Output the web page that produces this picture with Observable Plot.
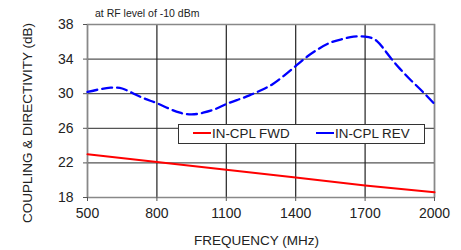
<!DOCTYPE html>
<html><head><meta charset="utf-8">
<script src="https://cdn.jsdelivr.net/npm/d3@7"></script>
<script src="https://cdn.jsdelivr.net/npm/@observablehq/plot@0.6"></script>
<style>
body{margin:0;background:#fff;font-family:"Liberation Sans",Arial,sans-serif;}
#wrap{position:relative;width:461px;height:250px;}
#title{position:absolute;left:95px;top:7px;font-size:10.5px;color:#222;white-space:nowrap;}
#legend{position:absolute;left:178px;top:124px;width:247px;height:20px;border:1px solid #333;background:#fff;box-sizing:border-box;font-size:13.4px;color:#222;}
.item{position:absolute;top:1px;white-space:nowrap;}
.sw{display:inline-block;width:18px;height:2px;vertical-align:middle;margin-right:1px;position:relative;top:-1px;}
</style></head>
<body><div id="wrap"><div id="chart"></div>
<div id="title">at RF level of -10 dBm</div>
<div id="legend"></div></div>
<script>
const freqs = [500,550,600,650,700,750,800,850,900,950,1000,1050,1100,1150,1200,1250,1300,1350,1400,1450,1500,1550,1600,1650,1700,1750,1800,1850,1900,1950,2000];
const revValues = [30.2,30.5,30.7,30.6,30.0,29.4,28.9,28.3,27.8,27.6,27.8,28.2,28.8,29.3,29.8,30.4,31.1,32.1,33.2,34.3,35.2,35.9,36.3,36.6,36.6,36.1,34.5,32.9,31.5,30.2,28.8];
const fwdFreqs = [500,800,1100,1400,1700,2000];
const fwdValues = [23.0,22.1,21.2,20.3,19.4,18.6];
const xTicks = [500,800,1100,1400,1700,2000];
const yTicks = [18,22,26,30,34,38];
const seriesNames = ["IN-CPL FWD","IN-CPL REV"];
const seriesColors = ["#ff0000","#0000ff"];

const rev = freqs.map((f,i)=>({f, v: revValues[i]}));
const fwd = fwdFreqs.map((f,i)=>({f, v: fwdValues[i]}));

const chart = Plot.plot({
  width: 461, height: 250,
  marginLeft: 87, marginRight: 27, marginTop: 24, marginBottom: 53,
  style: {fontFamily: '"Liberation Sans", Arial, sans-serif', fontSize: "14px", color: "#222", background: "#fff"},
  x: {domain: [500,2000]},
  y: {domain: [18,38]},
  marks: [
    Plot.gridY(yTicks, {stroke: "#555", strokeOpacity: 1, strokeWidth: 1.2}),
    Plot.gridX(xTicks, {stroke: "#222", strokeOpacity: 1, strokeWidth: 1.2}),
    Plot.frame({stroke: "#888", strokeWidth: 1.5}),
    Plot.axisX({ticks: xTicks, tickFormat: d=>String(d), fontSize: 14, stroke: "#555", tickSize: 4, tickPadding: 7,
      label: "FREQUENCY (MHz)", labelAnchor: "center", labelArrow: "none", labelOffset: 46}),
    Plot.axisY({ticks: yTicks, fontSize: 14, stroke: "#555", tickSize: 4, tickPadding: 10,
      label: "COUPLING & DIRECTIVITY (dB)", labelAnchor: "center", labelArrow: "none", labelOffset: 60}),
    Plot.line(fwd, {x: "f", y: "v", stroke: seriesColors[0], strokeWidth: 2}),
    Plot.line(rev, {x: "f", y: "v", stroke: seriesColors[1], strokeWidth: 2.3, strokeDasharray: "10,5", curve: "natural"})
  ]
});
const yl = chart.querySelector("g[aria-label='y-axis label'] text");
if (yl) {
  yl.removeAttribute("x"); yl.removeAttribute("y");
  yl.setAttribute("transform","translate(27,123) rotate(-90)");
  yl.setAttribute("text-anchor","middle");
  yl.setAttribute("dy","0.35em");
  yl.setAttribute("font-size","13.5");
  yl.setAttribute("fill","#222");
  chart.appendChild(yl);
}
const xl = chart.querySelector("g[aria-label='x-axis label'] text");
if (xl) {
  xl.removeAttribute("x"); xl.removeAttribute("y");
  xl.setAttribute("transform","translate(256.5,240)");
  xl.setAttribute("text-anchor","middle");
  xl.setAttribute("dy","0.35em");
  xl.setAttribute("font-size","13.5");
  xl.setAttribute("fill","#222");
  chart.appendChild(xl);
}
document.getElementById("chart").appendChild(chart);

const lg = document.getElementById("legend");
const lefts = [14, 137];
seriesNames.forEach((n,i)=>{
  const d = document.createElement("div");
  d.className = "item"; d.style.left = lefts[i]+"px";
  d.innerHTML = `<span class="sw" style="background:${seriesColors[i]}"></span>${n}`;
  lg.appendChild(d);
});
</script></body></html>
